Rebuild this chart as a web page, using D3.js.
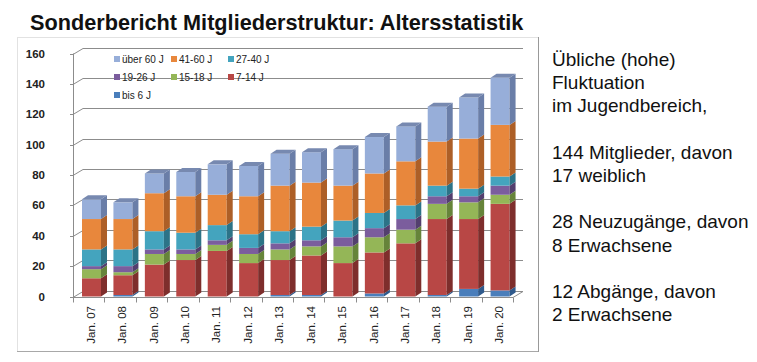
<!DOCTYPE html>
<html>
<head>
<meta charset="utf-8">
<script src="https://cdn.jsdelivr.net/npm/d3@7"></script>
<style>
  body { margin: 0; background: #fff; }
  text { font-family: "Liberation Sans", Arial, sans-serif; }
</style>
</head>
<body>
<script>
// data
var categories = ["Jan. 07","Jan. 08","Jan. 09","Jan. 10","Jan. 11","Jan. 12","Jan. 13",
                  "Jan. 14","Jan. 15","Jan. 16","Jan. 17","Jan. 18","Jan. 19","Jan. 20"];
var bis6    = [0, 1, 0, 0, 0, 0, 1, 1, 0, 2, 0, 1, 5, 4];
var j7_14   = [12,13,21,24,30,22,23,26,22,27,35,50,46,57];
var j15_18  = [6, 2, 7, 4, 4, 6, 7, 6,11,10, 9,10,11, 6];
var j19_26  = [2, 4, 3, 3, 3, 4, 4, 4, 6, 6, 7, 5, 4, 6];
var j27_40  = [11,11,12,11,10, 9, 8, 9,11,10, 9, 7, 5, 6];
var j41_60  = [20,20,25,24,20,25,30,29,23,26,29,29,33,34];
var ueber60 = [13,11,13,16,20,20,21,20,24,24,23,23,27,31];
var seriesNames = ["bis 6 J","7-14 J","15-18 J","19-26 J","27-40 J","41-60 J","über 60 J"];
var yTicks = [0,20,40,60,80,100,120,140,160];
var sideText = ["Übliche (hohe)","Fluktuation","im Jugendbereich,","",
                "144 Mitglieder, davon","17 weiblich","",
                "28 Neuzugänge, davon","8 Erwachsene","",
                "12 Abgänge, davon","2 Erwachsene"];

var front = ["#4a7ebb","#b84745","#94b657","#7b5d9d","#44a4be","#e8873c","#97aed9"];
var side  = ["#2f5a8c","#7e2e2c","#66843a","#533f6e","#2c7387","#ad5f27","#6a7ea8"];
var topCol = "#7789b0";

// rows for the stack
var rows = categories.map(function(c, i) {
  return {cat: c, "bis 6 J": bis6[i], "7-14 J": j7_14[i], "15-18 J": j15_18[i],
          "19-26 J": j19_26[i], "27-40 J": j27_40[i], "41-60 J": j41_60[i], "über 60 J": ueber60[i]};
});
var stacked = d3.stack().keys(seriesNames)(rows);

var W = 757, H = 362;
var svg = d3.select("body").append("svg").attr("width", W).attr("height", H);

// depth of walls and bars
var dxW = 10, dyW = -6;
var dxB = 6, dyB = -4;

var x = d3.scaleBand().domain(categories).range([73, 513]);
var y = d3.scaleLinear().domain([0, 160]).range([296.5, 53.5]);

// frame
svg.append("line").attr("x1",17).attr("x2",539).attr("y1",37.5).attr("y2",37.5).attr("stroke","#e2e2e2");
svg.append("line").attr("x1",17.5).attr("x2",17.5).attr("y1",37).attr("y2",352).attr("stroke","#e2e2e2");
svg.append("line").attr("x1",17).attr("x2",539).attr("y1",351.5).attr("y2",351.5).attr("stroke","#a8a8a8");
svg.append("line").attr("x1",538.5).attr("x2",538.5).attr("y1",37).attr("y2",352).attr("stroke","#999");

// title
svg.append("text").attr("x", 30).attr("y", 30)
  .attr("font-size", 21.7).attr("font-weight", "bold").attr("fill", "#111")
  .text("Sonderbericht Mitgliederstruktur: Altersstatistik");

var x0 = x.range()[0], x1 = x.range()[1];

// gridlines: side wall slant + back wall
var grid = svg.append("g").attr("fill", "none").attr("stroke", "#8c8c8c").attr("stroke-width", 1);
yTicks.forEach(function(v) {
  if (v === 0) return;
  var yy = Math.round(y(v)) + 0.5;
  grid.append("path").attr("d", "M" + x0 + "," + yy + "L" + (x0 + dxW) + "," + (yy + dyW) + "L" + (x1 + dxW) + "," + (yy + dyW));
});
// floor
var yb = Math.round(y(0)) + 0.5;
svg.append("path").attr("fill", "none").attr("stroke", "#8c8c8c")
  .attr("d", "M" + x0 + "," + yb + "L" + x1 + "," + yb + "L" + (x1 + dxW) + "," + (yb + dyW) + "L" + (x0 + dxW) + "," + (yb + dyW) + "Z");

// y axis line with ticks
svg.append("line").attr("x1", x0 + 0.5).attr("x2", x0 + 0.5).attr("y1", y(160)).attr("y2", yb).attr("stroke", "#8c8c8c");
yTicks.forEach(function(v) {
  var yy = Math.round(y(v)) + 0.5;
  svg.append("line").attr("x1", x0 - 3).attr("x2", x0).attr("y1", yy).attr("y2", yy).attr("stroke", "#8c8c8c");
  svg.append("text").attr("x", 45).attr("y", y(v)).attr("dy", "0.35em")
    .attr("text-anchor", "end").attr("font-size", 11.5).attr("font-weight", "bold").attr("fill", "#222")
    .text(v);
});

// x axis ticks and labels
categories.concat([null]).forEach(function(c, i) {
  var xx = Math.round(c ? x(c) : x1) + 0.5;
  svg.append("line").attr("x1", xx).attr("x2", xx).attr("y1", yb).attr("y2", yb + 5).attr("stroke", "#8c8c8c");
});
categories.forEach(function(c) {
  var cx = x(c) + x.bandwidth() / 2 + 2, cy = 306;
  svg.append("text").attr("transform", "translate(" + cx + "," + cy + ") rotate(-90)")
    .attr("dy", "0.35em").attr("text-anchor", "end").attr("font-size", 11.5).attr("fill", "#222")
    .text(c);
});

// bars
var bw = 19, bo = 9;
var bars = svg.append("g");
categories.forEach(function(c, i) {
  var xl = x(c) + bo, xr = xl + bw;
  var topY = null;
  stacked.forEach(function(s, k) {
    var d = s[i];
    if (d[1] - d[0] <= 0) return;
    var y0 = y(d[0]), y1 = y(d[1]);
    bars.append("rect").attr("x", xl).attr("y", y1).attr("width", bw).attr("height", y0 - y1).attr("fill", front[k]);
    bars.append("path").attr("fill", side[k])
      .attr("d", "M" + xr + "," + y1 + "L" + (xr + dxB) + "," + (y1 + dyB) + "L" + (xr + dxB) + "," + (y0 + dyB) + "L" + xr + "," + y0 + "Z");
    topY = y1;
  });
  bars.append("path").attr("fill", topCol)
    .attr("d", "M" + xl + "," + topY + "L" + (xl + dxB) + "," + (topY + dyB) + "L" + (xr + dxB) + "," + (topY + dyB) + "L" + xr + "," + topY + "Z");
});

// legend
var legendOrder = ["über 60 J","41-60 J","27-40 J","19-26 J","15-18 J","7-14 J","bis 6 J"];
var legend = svg.append("g");
legendOrder.forEach(function(name, j) {
  var k = seriesNames.indexOf(name);
  var lx = 114 + (j % 3) * 57, ly = 59 + Math.floor(j / 3) * 18;
  legend.append("rect").attr("x", lx).attr("y", ly - 3).attr("width", 6).attr("height", 6).attr("fill", front[k]);
  legend.append("text").attr("x", lx + 8).attr("y", ly).attr("dy", "0.35em")
    .attr("font-size", 10).attr("fill", "#222").text(name);
});

// side text
sideText.forEach(function(t, i) {
  if (!t) return;
  svg.append("text").attr("x", 552).attr("y", 66 + i * 23.2)
    .attr("font-size", 19).attr("fill", "#111").text(t);
});
</script>
</body>
</html>
